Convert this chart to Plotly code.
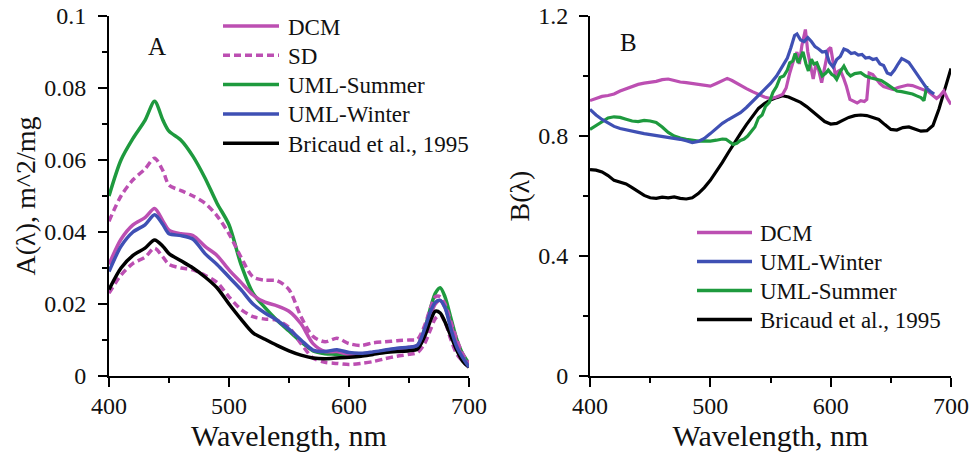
import plotly.graph_objects as go

# ---------------- Panel A data ----------------
wl_a = [400, 410, 420, 430, 438, 445, 450, 460, 470, 480, 490, 500, 510, 520, 530, 540,
        550, 560, 570, 580, 590, 600, 610, 620, 630, 640, 650, 657, 663, 668, 672, 676,
        680, 685, 690, 695, 700]
a_dcm = [0.031, 0.038, 0.042, 0.044, 0.0465, 0.043, 0.0405, 0.0395, 0.039, 0.036, 0.0335,
         0.0295, 0.026, 0.0225, 0.0205, 0.0195, 0.018, 0.0145, 0.009, 0.0068, 0.0068, 0.006,
         0.006, 0.0065, 0.007, 0.0075, 0.008, 0.0085, 0.012, 0.017, 0.020, 0.021, 0.019,
         0.014, 0.009, 0.005, 0.003]
a_sd_up = [0.043, 0.050, 0.0545, 0.0575, 0.0605, 0.057, 0.053, 0.0515, 0.050, 0.048, 0.0445,
           0.0395, 0.033, 0.0275, 0.0266, 0.0265, 0.024, 0.0165, 0.011, 0.0095, 0.0105, 0.009,
           0.0085, 0.0092, 0.0095, 0.0098, 0.010, 0.0102, 0.014, 0.019, 0.022, 0.022, 0.020,
           0.015, 0.010, 0.006, 0.0035]
a_sd_low = [0.023, 0.028, 0.0313, 0.033, 0.0355, 0.033, 0.031, 0.030, 0.0295, 0.028, 0.026,
            0.022, 0.0185, 0.0165, 0.0158, 0.0155, 0.0135, 0.009, 0.005, 0.0038, 0.0035, 0.0032,
            0.0035, 0.004, 0.0048, 0.0055, 0.006, 0.0065, 0.009, 0.013, 0.016, 0.017, 0.015,
            0.010, 0.006, 0.004, 0.0025]
a_summer = [0.050, 0.060, 0.066, 0.071, 0.0763, 0.071, 0.068, 0.0655, 0.061, 0.055, 0.048,
            0.042, 0.031, 0.023, 0.019, 0.0155, 0.0125, 0.0095, 0.007, 0.0062, 0.006, 0.0055,
            0.0058, 0.0065, 0.007, 0.0075, 0.0078, 0.0085, 0.013, 0.019, 0.023, 0.0245, 0.022,
            0.016, 0.010, 0.006, 0.0035]
a_winter = [0.029, 0.036, 0.040, 0.042, 0.0448, 0.042, 0.0395, 0.039, 0.038, 0.034, 0.031,
            0.0275, 0.024, 0.020, 0.0175, 0.0155, 0.013, 0.010, 0.0072, 0.0068, 0.0073, 0.0065,
            0.0063, 0.0067, 0.0072, 0.0077, 0.008, 0.0085, 0.013, 0.018, 0.0205, 0.021, 0.019,
            0.013, 0.008, 0.005, 0.0025]
a_bricaud = [0.024, 0.030, 0.0335, 0.0355, 0.0378, 0.036, 0.034, 0.032, 0.030, 0.0275, 0.0245,
             0.020, 0.0158, 0.012, 0.0102, 0.0085, 0.007, 0.0058, 0.005, 0.0048, 0.005, 0.0052,
             0.0055, 0.006, 0.0065, 0.0068, 0.007, 0.0075, 0.011, 0.0155, 0.018, 0.0175, 0.015,
             0.011, 0.007, 0.004, 0.0025]

# ---------------- Panel B data ----------------
wl_b_dcm = [400, 405, 410, 415, 420, 425, 430, 435, 440, 445, 450, 455, 460, 465, 470, 475,
            480, 485, 490, 495, 500, 505, 510, 514, 518, 522, 526, 530, 535, 540, 545, 550,
            555, 560, 563, 566, 569, 572, 574, 576, 579, 581, 583, 585.5, 588, 590, 592.5, 595,
            598, 600, 602, 604, 606, 608, 611, 613, 616, 619, 622, 625, 628, 630, 632, 635,
            638, 641, 644, 648, 652, 656, 660, 664, 668, 672, 677, 681, 685, 688, 691, 694,
            697, 700]
b_dcm = [0.918, 0.925, 0.932, 0.935, 0.940, 0.950, 0.958, 0.965, 0.972, 0.976, 0.978, 0.982,
         0.988, 0.990, 0.985, 0.980, 0.978, 0.975, 0.970, 0.968, 0.966, 0.975, 0.986, 0.992,
         0.985, 0.975, 0.965, 0.958, 0.948, 0.938, 0.930, 0.925, 0.930, 0.938, 0.960, 1.010,
         1.050, 1.080, 1.040, 1.100, 1.155, 1.080, 1.040, 0.990, 1.045, 1.020, 0.978, 1.030,
         1.088, 1.095, 1.040, 1.000, 1.015, 1.020, 0.990, 0.967, 0.922, 0.915, 0.910, 0.918,
         0.915, 0.922, 1.010, 1.005, 0.990, 0.975, 0.965, 0.960, 0.955, 0.962, 0.965, 0.970,
         0.968, 0.962, 0.956, 0.948, 0.935, 0.925, 0.935, 0.950, 0.925, 0.905]

wl_b_winter = [400, 405, 410, 415, 420, 425, 430, 435, 440, 445, 450, 455, 460, 465, 470, 475,
               480, 485, 490, 495, 500, 505, 510, 515, 520, 525, 530, 535, 540, 545, 550, 555,
               558, 561, 564, 567, 570, 572, 575, 578, 581, 584, 587, 590, 593, 596, 599, 602,
               605, 608, 611, 614, 617, 620, 623, 626, 629, 632, 635, 638, 641, 644, 647, 650,
               653, 656, 659, 662, 665, 668, 671, 674, 677, 680, 683, 686]
b_winter = [0.889, 0.870, 0.855, 0.842, 0.832, 0.825, 0.820, 0.816, 0.812, 0.808, 0.805, 0.801,
            0.798, 0.795, 0.792, 0.789, 0.784, 0.778, 0.782, 0.792, 0.808, 0.825, 0.842, 0.855,
            0.866, 0.878, 0.895, 0.915, 0.932, 0.955, 0.975, 1.000, 1.020, 1.045, 1.060, 1.095,
            1.135, 1.140, 1.120, 1.115, 1.128, 1.115, 1.098, 1.090, 1.080, 1.082, 1.045, 1.030,
            1.055, 1.065, 1.090, 1.085, 1.075, 1.078, 1.070, 1.072, 1.060, 1.062, 1.055, 1.058,
            1.040, 1.035, 1.010, 1.005, 1.020, 1.040, 1.058, 1.052, 1.045, 1.028, 1.010, 0.990,
            0.972, 0.958, 0.948, 0.940]

wl_b_summer = [400, 405, 410, 415, 420, 425, 430, 435, 440, 445, 450, 455, 460, 465, 470, 475,
               480, 485, 490, 495, 500, 505, 510, 513, 516, 519, 522, 525, 528, 531, 534, 537,
               540, 543, 546, 549, 552, 555, 558, 561, 564, 566, 568.5, 570.5, 573, 575, 577,
               579.5, 581.5, 584, 586, 588.5, 591, 593, 596, 598, 601, 603, 605, 608, 611, 614,
               616.5, 620, 625, 629, 633, 638, 642, 647, 651, 655, 659, 664, 668, 672, 675,
               677.5, 680]
b_summer = [0.822, 0.835, 0.850, 0.860, 0.864, 0.862, 0.856, 0.850, 0.848, 0.852, 0.850, 0.845,
            0.830, 0.812, 0.800, 0.793, 0.789, 0.786, 0.783, 0.784, 0.783, 0.786, 0.790, 0.789,
            0.780, 0.772, 0.776, 0.785, 0.790, 0.800, 0.815, 0.830, 0.860, 0.870, 0.900, 0.912,
            0.945, 0.965, 0.995, 1.000, 1.020, 1.044, 1.050, 1.075, 1.044, 1.060, 1.080, 1.040,
            1.017, 1.056, 1.040, 1.044, 1.020, 1.000, 1.010, 1.020, 1.005, 1.000, 0.989, 1.015,
            1.033, 1.010, 1.000, 1.008, 1.011, 1.000, 0.994, 0.989, 0.985, 0.972, 0.962, 0.950,
            0.948, 0.944, 0.940, 0.933, 0.928, 0.918, 0.967]

wl_b_bricaud = [400, 405, 410, 415, 420, 425, 430, 435, 440, 445, 450, 455, 460, 465, 470, 475,
                480, 485, 490, 495, 500, 505, 510, 515, 520, 525, 530, 535, 540, 545, 550, 555,
                560, 565, 570, 575, 580, 585, 590, 595, 600, 605, 610, 615, 620, 625, 630, 635,
                640, 645, 650, 655, 660, 665, 670, 675, 680, 685, 690, 695, 700]
b_bricaud = [0.688, 0.686, 0.680, 0.668, 0.652, 0.645, 0.640, 0.628, 0.615, 0.602, 0.594, 0.592,
             0.596, 0.594, 0.597, 0.592, 0.590, 0.594, 0.608, 0.628, 0.652, 0.680, 0.712, 0.745,
             0.778, 0.808, 0.838, 0.866, 0.892, 0.908, 0.920, 0.928, 0.934, 0.930, 0.920, 0.912,
             0.898, 0.882, 0.864, 0.848, 0.840, 0.842, 0.852, 0.862, 0.868, 0.870, 0.868, 0.862,
             0.855, 0.838, 0.822, 0.820, 0.828, 0.830, 0.822, 0.816, 0.818, 0.835, 0.890, 0.960,
             1.025]

# ---------------- Ticks / labels ----------------
x_ticks = [400, 500, 600, 700]
a_yticks = [0, 0.02, 0.04, 0.06, 0.08, 0.1]
a_yticktext = ["0", "0.02", "0.04", "0.06", "0.08", "0.1"]
b_yticks = [0, 0.4, 0.8, 1.2]
b_yticktext = ["0", "0.4", "0.8", "1.2"]
legend_a = ["DCM", "SD", "UML-Summer", "UML-Winter", "Bricaud et al., 1995"]
legend_b = ["DCM", "UML-Winter", "UML-Summer", "Bricaud et al., 1995"]

# ---------------- Styles ----------------
PINK = "#BC4FB2"
BLUE = "#3F50B4"
GREEN = "#1E9A3E"
BLACK = "#000000"
FONT = "Liberation Serif"
TXT = "#111111"
W, H = 971, 463


def px(x):
    return x / W


def py(y):
    return 1 - y / H


fig = go.Figure()

a_series = [
    (a_summer, GREEN, "solid", "UML-Summer"),
    (a_sd_up, PINK, "7px,4px", "SD"),
    (a_sd_low, PINK, "7px,4px", "SD"),
    (a_dcm, PINK, "solid", "DCM"),
    (a_bricaud, BLACK, "solid", "Bricaud et al., 1995"),
    (a_winter, BLUE, "solid", "UML-Winter"),
]
for yv, col, dash, name in a_series:
    fig.add_trace(go.Scatter(x=wl_a, y=yv, name=name, mode="lines", xaxis="x", yaxis="y",
                             line=dict(color=col, width=3.5, dash=dash, shape="spline",
                                       smoothing=0.8),
                             showlegend=False))

b_series = [
    (wl_b_bricaud, b_bricaud, BLACK, "Bricaud et al., 1995"),
    (wl_b_dcm, b_dcm, PINK, "DCM"),
    (wl_b_summer, b_summer, GREEN, "UML-Summer"),
    (wl_b_winter, b_winter, BLUE, "UML-Winter"),
]
for xv, yv, col, name in b_series:
    fig.add_trace(go.Scatter(x=xv, y=yv, name=name, mode="lines", xaxis="x2", yaxis="y2",
                             line=dict(color=col, width=3.2), showlegend=False))

axis_common = dict(showline=True, linecolor="black", linewidth=2, ticks="outside", ticklen=9,
                   tickwidth=2, tickcolor="black", showgrid=False, zeroline=False,
                   automargin=False,
                   tickfont=dict(family=FONT, size=24, color=TXT))
minor_common = dict(ticks="outside", ticklen=5, tickwidth=2, tickcolor="black", showgrid=False)

xdom_a = [px(109), px(469)]
xdom_b = [px(590), px(951)]
ydom = [py(376), py(16)]

xtitle_font = dict(family=FONT, size=30, color=TXT)
ytitle_font = dict(family=FONT, size=28, color=TXT)

fig.update_layout(
    width=W, height=H, margin=dict(l=0, r=0, t=0, b=0, autoexpand=False),
    paper_bgcolor="white", plot_bgcolor="white",
    xaxis=dict(domain=xdom_a, range=[400, 700], anchor="y", tickvals=x_ticks,
               minor=dict(dtick=50, **minor_common), ticklabelstandoff=-2,
               title=dict(text="Wavelength, nm", font=xtitle_font, standoff=3),
               **axis_common),
    yaxis=dict(domain=ydom, range=[0, 0.1], anchor="x", tickvals=a_yticks,
               ticktext=a_yticktext, minor=dict(dtick=0.01, **minor_common),
               ticklabelstandoff=7,
               title=dict(text="A(λ), m^2/mg", font=ytitle_font, standoff=0),
               **axis_common),
    xaxis2=dict(domain=xdom_b, range=[400, 700], anchor="y2", tickvals=x_ticks,
                minor=dict(dtick=50, **minor_common), ticklabelstandoff=-2,
                title=dict(text="Wavelength, nm", font=xtitle_font, standoff=3),
                **axis_common),
    yaxis2=dict(domain=ydom, range=[0, 1.2], anchor="x2", tickvals=b_yticks,
                ticktext=b_yticktext, minor=dict(dtick=0.2, **minor_common),
                ticklabelstandoff=6,
                title=dict(text="B(λ)", font=ytitle_font, standoff=0),
                **axis_common),
    showlegend=False,
)

# panel letters
fig.add_annotation(x=px(157), y=py(46), xref="paper", yref="paper", text="A", showarrow=False,
                   font=dict(family=FONT, size=25, color=TXT), xanchor="center", yanchor="middle")
fig.add_annotation(x=px(628), y=py(43), xref="paper", yref="paper", text="B", showarrow=False,
                   font=dict(family=FONT, size=25, color=TXT), xanchor="center", yanchor="middle")

# manual legends (long line samples as in the reference)
leg_a_styles = [(PINK, "solid"), (PINK, "7px,4px"), (GREEN, "solid"), (BLUE, "solid"),
                (BLACK, "solid")]
for i, (name, (col, dash)) in enumerate(zip(legend_a, leg_a_styles)):
    yy = 26 + 29.3 * i
    fig.add_shape(type="line", xref="paper", yref="paper", x0=px(223), x1=px(279),
                  y0=py(yy), y1=py(yy), line=dict(color=col, width=3.5, dash=dash))
    fig.add_annotation(x=px(286), y=py(yy + 1), xref="paper", yref="paper", text=name,
                       showarrow=False, xanchor="left", yanchor="middle",
                       font=dict(family=FONT, size=23, color=TXT))

leg_b_styles = [PINK, BLUE, GREEN, BLACK]
for i, (name, col) in enumerate(zip(legend_b, leg_b_styles)):
    yy = 232.5 + 29 * i
    fig.add_shape(type="line", xref="paper", yref="paper", x0=px(697), x1=px(752),
                  y0=py(yy), y1=py(yy), line=dict(color=col, width=3.5))
    fig.add_annotation(x=px(758), y=py(yy + 1), xref="paper", yref="paper", text=name,
                       showarrow=False, xanchor="left", yanchor="middle",
                       font=dict(family=FONT, size=23, color=TXT))

fig.write_html("out.html", config={"displayModeBar": False})
